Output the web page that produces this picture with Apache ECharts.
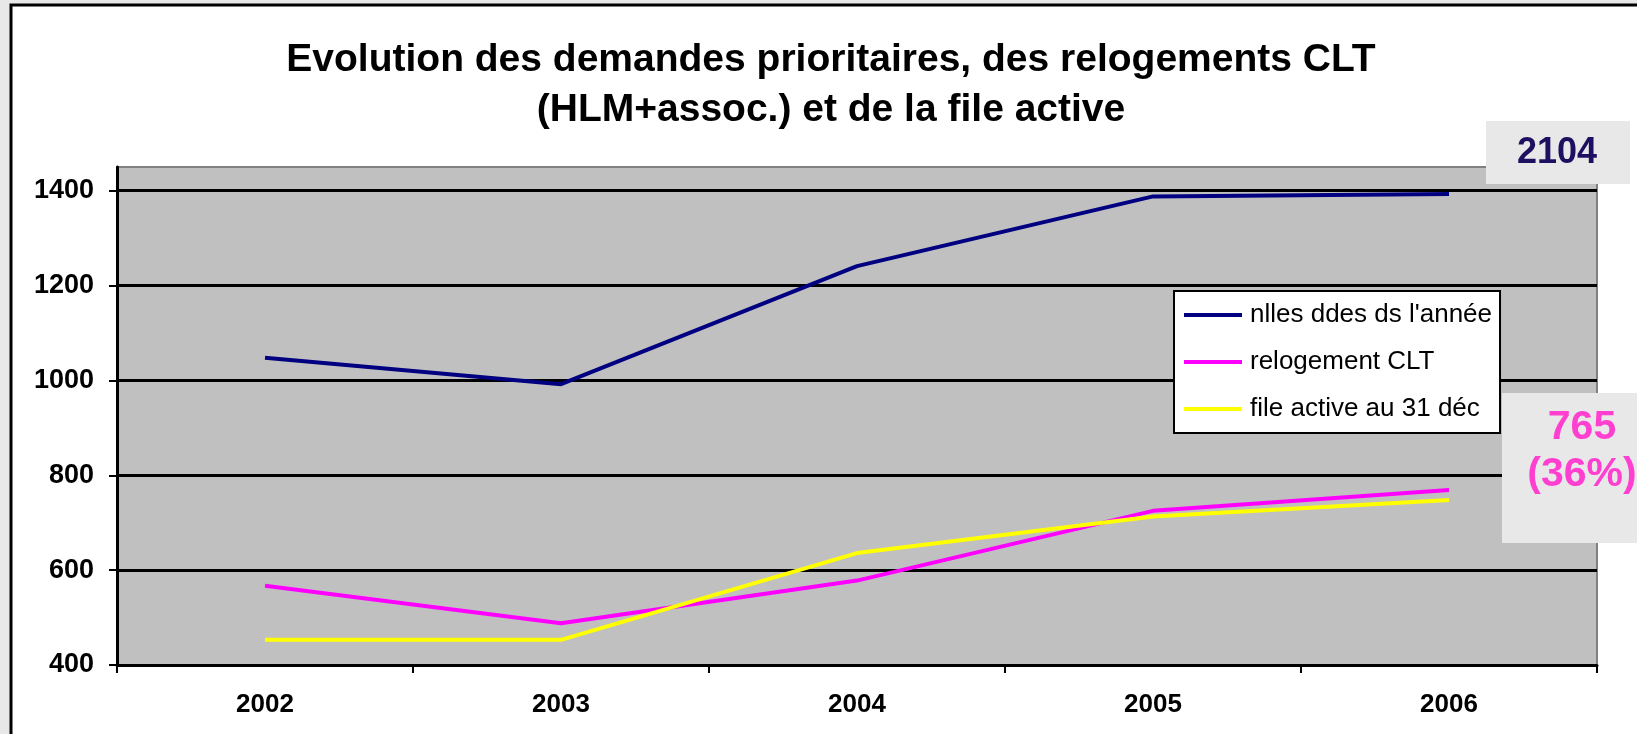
<!DOCTYPE html>
<html>
<head>
<meta charset="utf-8">
<script src="https://cdn.jsdelivr.net/npm/echarts@6/dist/echarts.min.js"></script>
<style>
html, body { margin: 0; padding: 0; background: #e8e8e8; }
#chart { width: 1637px; height: 734px; }
</style>
</head>
<body>
<div id="chart"></div>
<script>
var years = ['2002', '2003', '2004', '2005', '2006'];
var nouvellesDemandes = [1048, 992, 1241, 1388, 1393];
var relogementCLT = [567, 488, 578, 725, 769];
var fileActive = [453, 453, 636, 713, 748];
var seriesNames = ["nlles ddes ds l'année", 'relogement CLT', 'file active au 31 déc'];
var noteDemandes = '2104';
var noteRelogement = ['765', '(36%)'];

var font = "'Liberation Sans', Arial, sans-serif";
var myChart = echarts.init(document.getElementById('chart'));

myChart.setOption({
    animation: false,
    title: {
        text: 'Evolution des demandes prioritaires, des relogements CLT\n(HLM+assoc.) et de la file active',
        left: 826,
        top: 30,
        textAlign: 'center',
        textStyle: {
            fontFamily: font,
            fontSize: 39,
            fontWeight: 'bold',
            color: '#000',
            lineHeight: 50
        }
    },
    grid: {
        left: 117,
        right: 40,
        top: 167,
        bottom: 69,
        show: true,
        backgroundColor: '#c0c0c0',
        borderColor: '#808080',
        borderWidth: 2
    },
    legend: {
        orient: 'vertical',
        left: 1174,
        top: 291,
        padding: [9, 8, 9, 10],
        backgroundColor: '#fff',
        borderColor: '#000',
        borderWidth: 2,
        itemWidth: 58,
        itemHeight: 4,
        itemGap: 17,
        icon: 'rect',
        textStyle: {
            fontFamily: font,
            fontSize: 26,
            color: '#000',
            lineHeight: 30,
            padding: [0, 0, 0, 3]
        },
        data: seriesNames
    },
    xAxis: {
        type: 'category',
        data: years,
        boundaryGap: true,
        axisLine: { lineStyle: { color: '#000', width: 3 } },
        axisTick: { show: true, length: 8, interval: 0, lineStyle: { color: '#000', width: 2 } },
        axisLabel: {
            fontFamily: font,
            fontSize: 26,
            fontWeight: 'bold',
            color: '#000',
            margin: 27
        }
    },
    yAxis: {
        type: 'value',
        min: 400,
        max: 1450,
        interval: 200,
        axisLine: { show: true, lineStyle: { color: '#000', width: 3 } },
        axisTick: { show: true, length: 8, lineStyle: { color: '#000', width: 2 } },
        axisLabel: {
            fontFamily: font,
            fontSize: 27,
            fontWeight: 'bold',
            color: '#000',
            margin: 23,
            showMaxLabel: false,
            formatter: function (v) { return v % 200 === 0 ? String(v) : ''; }
        },
        splitLine: {
            show: true,
            showMaxLine: false,
            lineStyle: { color: '#000', width: 3 }
        }
    },
    series: [{
        name: seriesNames[0],
        type: 'line',
        data: nouvellesDemandes,
        symbol: 'none',
        color: '#000080',
        lineStyle: { width: 4, color: '#000080' }
    }, {
        name: seriesNames[1],
        type: 'line',
        data: relogementCLT,
        symbol: 'none',
        color: '#ff00ff',
        lineStyle: { width: 4, color: '#ff00ff' }
    }, {
        name: seriesNames[2],
        type: 'line',
        data: fileActive,
        symbol: 'none',
        color: '#ffff00',
        lineStyle: { width: 4, color: '#ffff00' }
    }],
    graphic: [{
        // chart frame
        type: 'rect',
        z: -100,
        silent: true,
        shape: { x: 11, y: 5, width: 1700, height: 800 },
        style: { fill: '#fff', stroke: '#000', lineWidth: 3 }
    }, {
        type: 'rect',
        z: 100,
        shape: { x: 1486, y: 121, width: 144, height: 63 },
        style: { fill: '#e8e8e8' }
    }, {
        type: 'text',
        z: 101,
        x: 1557,
        y: 153,
        style: {
            text: noteDemandes,
            font: 'bold 36px ' + font,
            fill: '#1f0f60',
            align: 'center',
            verticalAlign: 'middle'
        }
    }, {
        type: 'rect',
        z: 100,
        shape: { x: 1502, y: 393, width: 140, height: 150 },
        style: { fill: '#e8e8e8' }
    }, {
        type: 'text',
        z: 101,
        x: 1582,
        y: 451,
        style: {
            text: noteRelogement.join('\n'),
            font: 'bold 41px ' + font,
            lineHeight: 47,
            fill: '#ff3fcf',
            align: 'center',
            verticalAlign: 'middle'
        }
    }]
});
</script>
</body>
</html>
